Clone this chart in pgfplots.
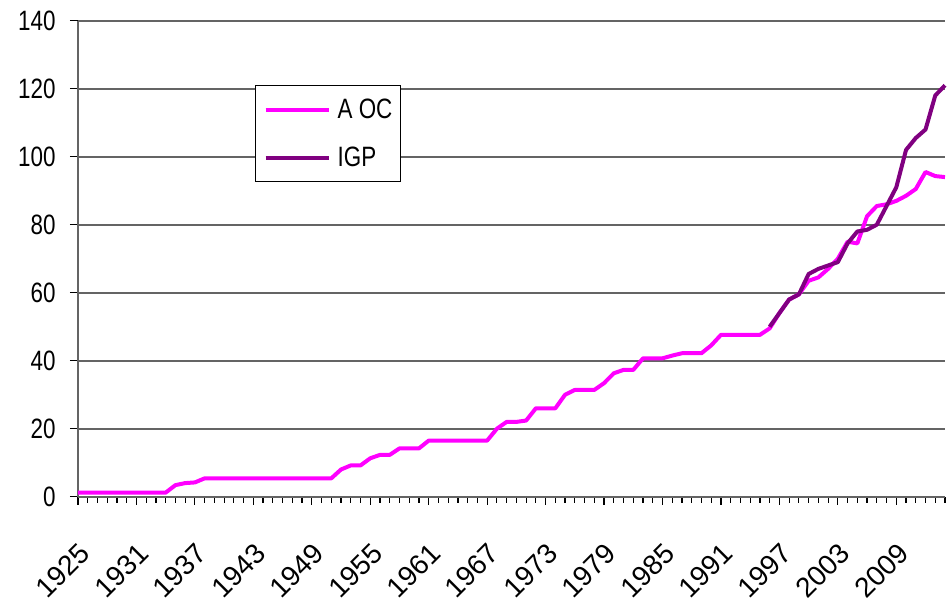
\documentclass[border=0pt]{standalone}
\usepackage{fontspec}
\setmainfont{Liberation Sans}
\newfontfamily\lab{Liberation Sans}[FakeStretch=0.8]
\usepackage{pgfplots}
\pgfplotsset{compat=1.18}
\definecolor{aoc}{RGB}{255,0,255}
\definecolor{igp}{RGB}{128,0,128}
\definecolor{gridc}{RGB}{100,100,100}
\newcommand\labfont{\lab\fontsize{14}{16}\selectfont}
\newcommand\xfont{\rmfamily\fontsize{14}{16}\selectfont}

\pgfplotstableread{
year val
1925 1.2
1926 1.2
1927 1.2
1928 1.2
1929 1.2
1930 1.2
1931 1.2
1932 1.2
1933 1.2
1934 1.2
1935 3.4
1936 4
1937 4.2
1938 5.4
1939 5.4
1940 5.4
1941 5.4
1942 5.4
1943 5.4
1944 5.4
1945 5.4
1946 5.4
1947 5.4
1948 5.4
1949 5.4
1950 5.4
1951 5.4
1952 8
1953 9.2
1954 9.2
1955 11.3
1956 12.3
1957 12.3
1958 14.2
1959 14.2
1960 14.2
1961 16.5
1962 16.5
1963 16.5
1964 16.5
1965 16.5
1966 16.5
1967 16.5
1968 20
1969 22
1970 22
1971 22.4
1972 26
1973 26
1974 26
1975 30
1976 31.4
1977 31.4
1978 31.4
1979 33.4
1980 36.3
1981 37.3
1982 37.3
1983 40.7
1984 40.7
1985 40.7
1986 41.5
1987 42.2
1988 42.2
1989 42.2
1990 44.5
1991 47.6
1992 47.6
1993 47.6
1994 47.6
1995 47.6
1996 49.5
1997 54
1998 58
1999 59.5
2000 63.5
2001 64.5
2002 67
2003 70
2004 75
2005 74.5
2006 82.5
2007 85.5
2008 86
2009 87
2010 88.5
2011 90.5
2012 95.5
2013 94.3
2014 94
}\aoctable

\pgfplotstableread{
year val
1996 50
1997 54
1998 58
1999 59.5
2000 65.5
2001 67
2002 68
2003 69
2004 74.5
2005 78
2006 78.5
2007 80
2008 85.5
2009 91
2010 102
2011 105.5
2012 108
2013 118
2014 121
}\igptable

\begin{document}
\begin{tikzpicture}
\begin{axis}[
  scale only axis, width=433.5pt, height=238pt,
  xmin=1925, xmax=2014, ymin=0, ymax=140,
  axis lines=left, axis line style={-, draw=gridc, line width=1pt},
  xtick={1925,1931,1937,1943,1949,1955,1961,1967,1973,1979,1985,1991,1997,2003,2009},
  xticklabels={1925,1931,1937,1943,1949,1955,1961,1967,1973,1979,1985,1991,1997,2003,2009},
  minor xtick={1925,1926,...,2014},
  ytick={0,20,...,140},
  ymajorgrids, major grid style={draw=gridc, line width=1.2pt},
  tick align=outside,
  major tick length=4pt, minor tick length=3pt,
  every tick/.style={draw=black, line width=0.6pt},
  /pgf/number format/assume math mode=true,
  /pgf/number format/1000 sep={},
  x tick label style={rotate=45, anchor=north east, font=\xfont, inner sep=0pt},
  xticklabel shift=18pt,
  yticklabel style={font=\labfont, inner sep=0pt, anchor=east, xshift=-7pt},
  clip=false,
  legend style={at={(0.204,0.865)}, anchor=north west, draw=black, line width=0.75pt, fill=white,
    font=\labfont, inner xsep=4pt, inner ysep=5.5pt, row sep=11pt,
    nodes={inner sep=0pt, text height=11pt, text depth=2pt}, cells={anchor=west}},
  legend image code/.code={\draw[#1] (0pt,0pt) -- (31.5pt,0pt); \path (35pt,0pt);},
]
\addplot[aoc, line width=2pt, line join=round] table[x=year, y=val] {\aoctable};
\addlegendentry{A OC}
\addplot[igp, line width=2pt, line join=round] table[x=year, y=val] {\igptable};
\addlegendentry{IGP}
\end{axis}
\pgfresetboundingbox
\path ([xshift=-39pt,yshift=-54.65pt]current axis.south west) rectangle ([xshift=2pt,yshift=10.35pt]current axis.north east);
\end{tikzpicture}
\end{document}
